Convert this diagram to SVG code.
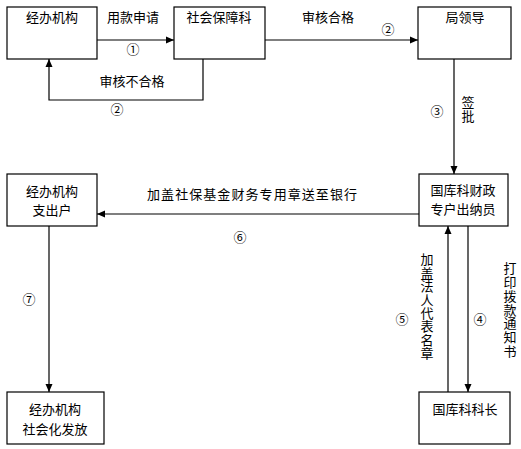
<svg xmlns="http://www.w3.org/2000/svg" width="521" height="449" viewBox="0 0 521 449">
<style>
.box{fill:#fff;stroke:#000;stroke-width:1.2}
.ln{fill:none;stroke:#000;stroke-width:1.2}
text{font-family:"Noto Sans CJK SC","Liberation Sans",sans-serif;font-size:13px;fill:#000}
.c{text-anchor:middle}
.v{writing-mode:vertical-rl;text-orientation:upright}
</style>
<defs>
<marker id="ah" markerUnits="userSpaceOnUse" markerWidth="8" markerHeight="8" refX="8" refY="4" orient="auto">
<path d="M0,0.5 L8,4 L0,7.5 Z" fill="#000"/>
</marker>
</defs>
<rect width="521" height="449" fill="#fff"/>
<g id="connectors">
<path class="ln" d="M97,40 H174" marker-end="url(#ah)"/>
<path class="ln" d="M203,59 V100 H49 V59" marker-end="url(#ah)"/>
<path class="ln" d="M265,40 H418" marker-end="url(#ah)"/>
<path class="ln" d="M454,59 V174" marker-end="url(#ah)"/>
<path class="ln" d="M419,214 H97" marker-end="url(#ah)"/>
<path class="ln" d="M49,226 V392" marker-end="url(#ah)"/>
<path class="ln" d="M468,226 V392" marker-end="url(#ah)"/>
<path class="ln" d="M448,392 V226" marker-end="url(#ah)"/>
<text class="c" x="133" y="22">用款申请</text>
<text class="c" x="133" y="54">①</text>
<text class="c" x="132" y="86">审核不合格</text>
<text class="c" x="117" y="114">②</text>
<text class="c" x="328" y="22">审核合格</text>
<text class="c" x="388" y="34">②</text>
<text class="c" x="437" y="116">③</text>
<text class="v" x="468" y="96" letter-spacing="1">签批</text>
<text x="147" y="199" textLength="210" lengthAdjust="spacing">加盖社保基金财务专用章送至银行</text>
<text class="c" x="240" y="242">⑥</text>
<text class="c" x="29" y="304">⑦</text>
<text class="c" x="402" y="324">⑤</text>
<text class="c" x="480" y="324">④</text>
<text class="v" x="427" y="253" letter-spacing="0.4">加盖法人代表名章</text>
<text class="v" x="510" y="262" letter-spacing="0.7">打印拨款通知书</text>
</g>
<g id="n1"><rect class="box" x="7" y="7" width="90" height="52"/><text class="c" x="52" y="22">经办机构</text></g>
<g id="n2"><rect class="box" x="174" y="7" width="91" height="52"/><text class="c" x="219" y="22">社会保障科</text></g>
<g id="n3"><rect class="box" x="418" y="7" width="93" height="52"/><text class="c" x="465" y="22">局领导</text></g>
<g id="n4"><rect class="box" x="419" y="174" width="89" height="52"/><text class="c" x="463" y="195">国库科财政</text><text class="c" x="463" y="214">专户出纳员</text></g>
<g id="n5"><rect class="box" x="7" y="174" width="90" height="52"/><text class="c" x="52" y="196">经办机构</text><text class="c" x="52" y="215">支出户</text></g>
<g id="n6"><rect class="box" x="7" y="392" width="97" height="52"/><text class="c" x="55" y="414">经办机构</text><text class="c" x="55" y="434">社会化发放</text></g>
<g id="n7"><rect class="box" x="419" y="392" width="91" height="52"/><text class="c" x="465" y="414">国库科科长</text></g>
</svg>
